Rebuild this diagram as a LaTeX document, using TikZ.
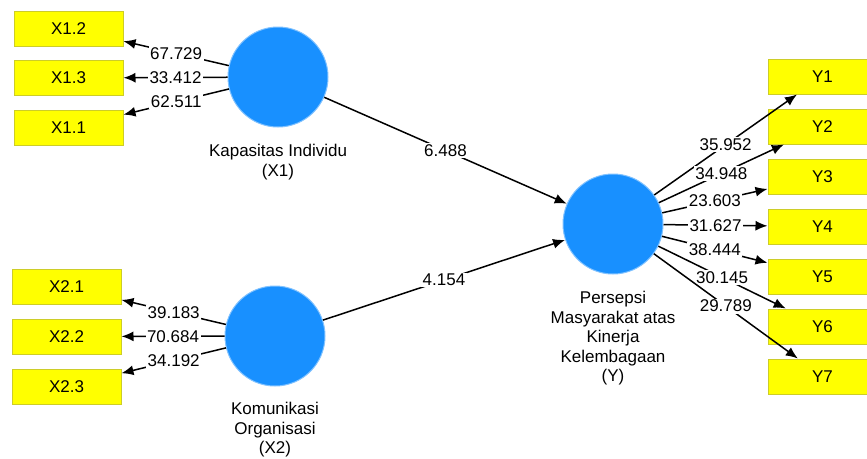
\documentclass[tikz,border=0pt]{standalone}
\usepackage{fontspec}
\setmainfont{Liberation Sans}
\usepackage{xcolor}
\usepackage{tikz}
\usetikzlibrary{arrows.meta}
\definecolor{lvblue}{RGB}{24,144,255}
\definecolor{mvyellow}{RGB}{255,255,0}
\definecolor{mvborder}{RGB}{205,205,40}

\begin{document}
\begin{tikzpicture}[x=1pt,y=-1pt,
    font=\fontsize{17}{19.5}\selectfont,
    indicator/.style={fill=mvyellow,draw=mvborder,line width=1pt,minimum width=109pt,minimum height=35pt,inner sep=0pt},
    latent/.style={fill=lvblue,draw=lvblue!55,line width=1pt,shape=circle,minimum size=100pt,inner sep=0pt},
    latentname/.style={align=center,anchor=north,inner sep=0pt},
    coef/.style={midway,fill=white,inner sep=1.5pt},
    link/.style={line width=1.5pt,-{Latex[length=12pt,width=10pt]}}]
                    \useasboundingbox (0,0) rectangle (867,458);

                    % latent variables
                    \node[latent] (X1) at (278,77) {};
                    \node[latent] (X2) at (275,336) {};
                    \node[latent] (Y) at (613,224) {};
                    \node[latentname] (nX1) at (278,144) {Kapasitas Individu\\(X1)};
                    \node[latentname] (nX2) at (275,402) {Komunikasi\\Organisasi\\(X2)};
                    \node[latentname] (nY) at (613,291) {Persepsi\\Masyarakat atas\\Kinerja\\Kelembagaan\\(Y)};

                    % indicators
                    \node[indicator] (X12) at (68.5,28.5) {X1.2};
                    \node[indicator] (X13) at (68.5,78) {X1.3};
                    \node[indicator] (X11) at (68.5,128) {X1.1};
                    \node[indicator] (X21) at (66.5,287) {X2.1};
                    \node[indicator] (X22) at (66.5,336.5) {X2.2};
                    \node[indicator] (X23) at (66.5,386.5) {X2.3};
                    \node[indicator] (Y1) at (822.5,76.5) {Y1};
                    \node[indicator] (Y2) at (822.5,126.5) {Y2};
                    \node[indicator] (Y3) at (822.5,176.5) {Y3};
                    \node[indicator] (Y4) at (822.5,226.5) {Y4};
                    \node[indicator] (Y5) at (822.5,276.5) {Y5};
                    \node[indicator] (Y6) at (822.5,326.5) {Y6};
                    \node[indicator] (Y7) at (822.5,376.5) {Y7};

                    \draw[link] (X1) -- (X12) node[coef] {67.729};
                    \draw[link] (X1) -- (X13) node[coef] {33.412};
                    \draw[link] (X1) -- (X11) node[coef] {62.511};
                    \draw[link] (X2) -- (X21) node[coef] {39.183};
                    \draw[link] (X2) -- (X22) node[coef] {70.684};
                    \draw[link] (X2) -- (X23) node[coef] {34.192};

                    \draw[link] (X1) -- (Y) node[coef] {6.488};
                    \draw[link] (X2) -- (Y) node[coef] {4.154};

                    \draw[link] (Y) -- (Y1) node[coef] {35.952};
                    \draw[link] (Y) -- (Y2) node[coef] {34.948};
                    \draw[link] (Y) -- (Y3) node[coef] {23.603};
                    \draw[link] (Y) -- (Y4) node[coef] {31.627};
                    \draw[link] (Y) -- (Y5) node[coef] {38.444};
                    \draw[link] (Y) -- (Y6) node[coef] {30.145};
                    \draw[link] (Y) -- (Y7) node[coef] {29.789};
                \end{tikzpicture}
\end{document}
